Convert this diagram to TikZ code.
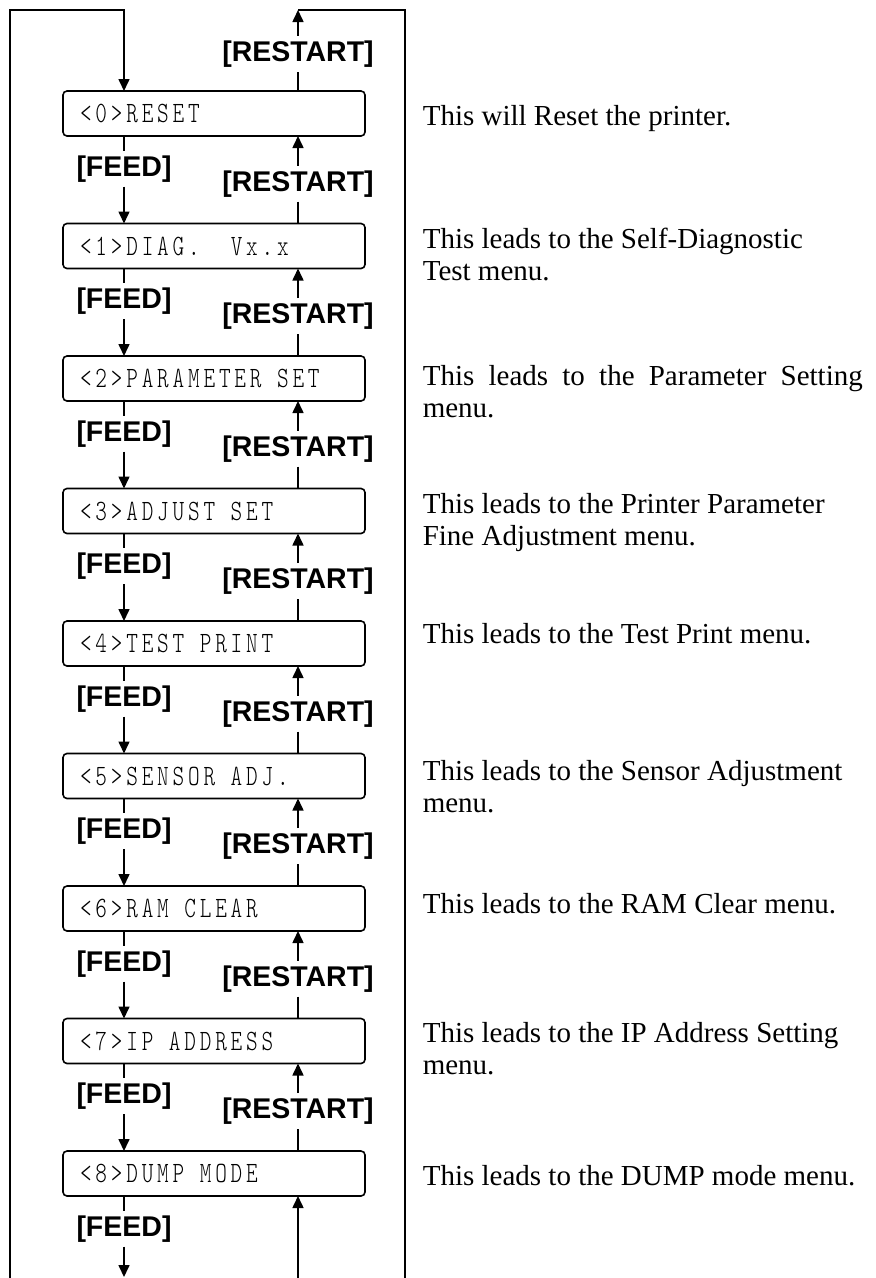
\documentclass[tikz,border=0pt]{standalone}
\usepackage{fontspec}
\setmainfont{Liberation Serif}
\newfontfamily\labfont{Liberation Sans}
\newfontfamily\lcdfont[FakeStretch=0.75,LetterSpace=13]{Latin Modern Mono Light}
\usetikzlibrary{arrows.meta}
\newcommand{\desctab}[1]{\begin{tabular}[t]{@{}l@{}}#1\end{tabular}}
\newcommand{\lcdsp}{\hspace*{15.5pt}}
\begin{document}
\begin{tikzpicture}[x=1pt,y=-1pt, line width=1.6pt,
  lcdbox/.style={draw, rounded corners=4pt, minimum width=302pt, minimum height=45pt,
    inner xsep=17pt, inner ysep=0pt, outer sep=0pt,
    text height=18pt, text depth=0pt,
    font=\lcdfont\fontsize{29.5}{30}\selectfont, anchor=north west},
  keylab/.style={font=\labfont\bfseries\fontsize{28.5}{30}\selectfont, inner sep=4pt, anchor=base},
  desc/.style={anchor=base west, inner sep=0pt, font=\fontsize{29}{32}\selectfont},
  arr/.style={-{Triangle[length=12pt,width=11pt]}}
]
\useasboundingbox (0,0) rectangle (876,1278);

% display boxes
\foreach \i/\t in {0/{<0>RESET}, 1/{<1>DIAG.\lcdsp\lcdsp Vx.x}, 2/{<2>PARAMETER\lcdsp SET},
  3/{<3>ADJUST\lcdsp SET}, 4/{<4>TEST\lcdsp PRINT}, 5/{<5>SENSOR\lcdsp ADJ.}, 6/{<6>RAM\lcdsp CLEAR},
  7/{<7>IP\lcdsp ADDRESS}, 8/{<8>DUMP\lcdsp MODE}}
  \node[lcdbox] (b\i) at (63,{91+132.5*\i}) {\makebox[268pt][l]{\t}};

% key labels
\foreach \i in {0,...,8}
  \node[keylab] (f\i) at (124,{176+132.5*\i}) {[FEED]};
\foreach \i in {0,...,7}
  \node[keylab] (r\i) at (298,{191+132.5*\i}) {[RESTART]};
\node[keylab] (rt) at (298,61) {[RESTART]};

% descriptions
\node[desc] (d0) at (422,125) {\desctab{This will Reset the printer.}};
\node[desc] (d1) at (422,248) {\desctab{This leads to the Self-Diagnostic\\Test menu.}};
\node[desc] (d2) at (422,385) {\desctab{\makebox[440pt][s]{This leads to the Parameter Setting}\\menu.}};
\node[desc] (d3) at (422,513) {\desctab{This leads to the Printer Parameter\\Fine Adjustment menu.}};
\node[desc] (d4) at (422,643) {\desctab{This leads to the Test Print menu.}};
\node[desc] (d5) at (422,780) {\desctab{This leads to the Sensor Adjustment\\menu.}};
\node[desc] (d6) at (422,913) {\desctab{This leads to the RAM Clear menu.}};
\node[desc] (d7) at (422,1042) {\desctab{This leads to the IP Address Setting\\menu.}};
\node[desc] (d8) at (422,1185) {\desctab{This leads to the DUMP mode menu.}};

% connectors between boxes
\foreach \i [evaluate=\i as \j using int(\i+1)] in {0,...,7} {
  \draw (b\i.south -| f\i) -- (f\i.north);
  \draw[arr] (f\i.south) -- (b\j.north -| f\i);
  \draw[arr] (r\i.north) -- (b\i.south -| r\i);
  \draw (r\i.south) -- (b\j.north -| r\i);
}

% bottom
\coordinate (fb) at (124,1277);
\coordinate (rbot) at (298,1278);
\draw (b8.south -| f8) -- (f8.north);
\draw[arr] (f8.south) -- (fb);
\draw[arr] (rbot) -- (b8.south -| rbot);

% top and outer frame
\coordinate (lb) at (10,1278);
\coordinate (lt) at (124,10);
\coordinate (rb) at (405,1278);
\coordinate (rtop) at (298,10);
\draw[arr] (lb) |- (lt) -- (b0.north -| lt);
\draw (b0.north -| rt) -- (rt.south);
\draw[arr] (rt.north) -- (rtop);
\draw (rb) |- (rtop);
\end{tikzpicture}
\end{document}
